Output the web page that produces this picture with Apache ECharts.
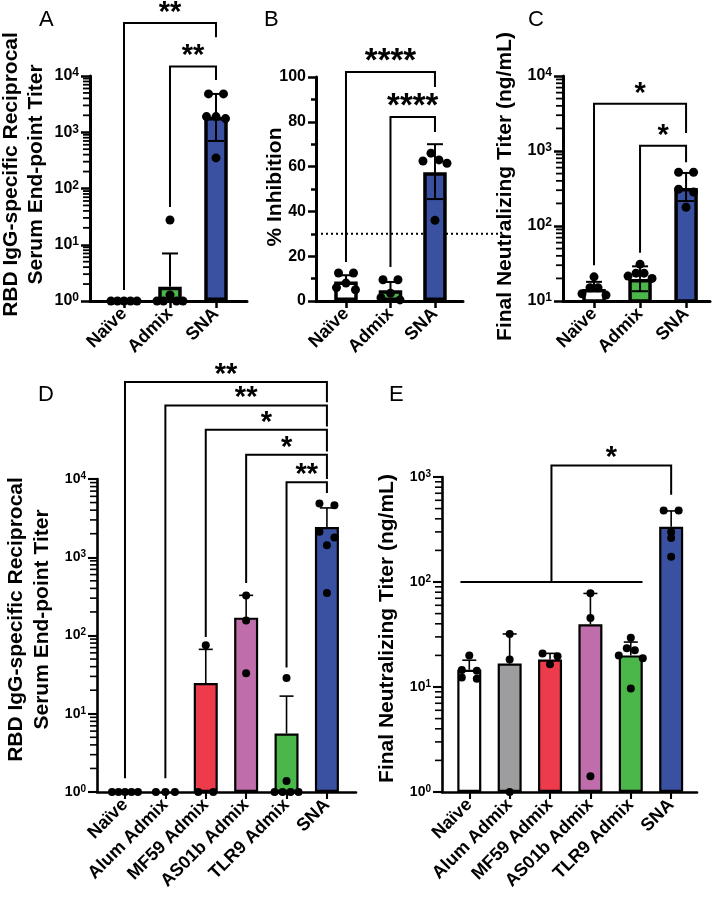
<!DOCTYPE html>
<html><head><meta charset="utf-8">
<script src="https://cdn.jsdelivr.net/npm/echarts@6/dist/echarts.min.js"></script>
<style>html,body{margin:0;padding:0;background:#fff}#c{width:719px;height:903px}</style>
</head><body><div id="c"></div>
<script>
const FONT = '"Liberation Sans", Arial, Helvetica, sans-serif';

// ---------------- DATA ----------------
const topCategories = ['Naïve', 'Admix', 'SNA'];
const bottomCategories = ['Naïve', 'Alum Admix', 'MF59 Admix', 'AS01b Admix', 'TLR9 Admix', 'SNA'];

// Panel A: RBD IgG titer (log)
const aMeans   = [1, 1.8, 1860];
const aErrHigh = [null, 7, 4800];
const aErrLow  = [null, null, 700];
const aDots    = [[1,1,1,1,1],[27.5,1.28,1,1,1,1],[4800,4800,1900,1900,1750,350]];
const aBrackets = [[0,2,87100,1.57,49000],[1,2,14800,47,8500]];
const aBracketLabels = ['**','**'];

// Panel B: % inhibition
const bMeans   = [8.7, 4.8, 57.5];
const bErrHigh = [11.5, 8.5, 70];
const bErrLow  = [null, null, 45.5];
const bDots    = [[12.5,12.5,8,6,5],[9.5,9.5,3.5,1.5,0.5],[66,63,62.5,61.5,36]];
const bThreshold = 30;
const bBrackets = [[0,2,102.2,17.4,95.5],[1,2,82.1,15.2,75.4]];
const bBracketLabels = ['****','****'];
const bTicks = [0,20,40,60,80,100];

// Panel C: final neutralizing titer (log)
const cMeans   = [14.5, 19.7, 320];
const cErrHigh = [18, 29, 510];
const cErrLow  = [null, 13.5, 215];
const cDots    = [[21,15,15,12.5,12],[31,23.5,23.5,21.5,20],[520,520,310,283,178]];
const cBrackets = [[0,2,4270,30,1740],[1,2,1175,44,710]];
const cBracketLabels = ['*','*'];

// Panel D: RBD IgG titer, adjuvants (log)
const dMeans   = [null, null, 24.7, 169, 5.6, 2440];
const dErrHigh = [null, null, 66.5, 326, 16.8, 4270];
const dErrLow  = [null, null, null, null, null, null];
const dDots    = [[1,1,1,1,1],[1,1,1],[75,1,1],[325,156,33],[28.6,1.38,1,1,1,1],[4620,4860,1790,2110,1420,350]];
const dBrackets = [[0,5,174000,1.5,95500],[1,5,87000,1.5,46800],[2,5,42700,96,22400],[3,5,20400,470,10000],[4,5,9120,39,6600]];
const dBracketLabels = ['**','**','*','*','**'];

// Panel E: final neutralizing titer, adjuvants (log)
const eMeans   = [14.6, 16.7, 18.3, 39.6, 20, 335];
const eErrHigh = [18, 32, 20.9, 77.8, 26.8, 475];
const eErrLow  = [null, null, null, null, null, null];
const eDots    = [[20,14.3,14.5,12.3,12],[32,18.3,1],[20.9,19.6,16.5],[78,45.5,1.41],[29.5,23.4,22.4,20,18.8,9.7],[480,480,300,262,174]];
const eGroupBrackets = [[0,4,100,5,1290,676]];
const eBracketLabels = ['*'];

// ---------------- STYLE ----------------
const WHITE='#ffffff', GREEN='#4bb649', BLUE='#3a51a2', GRAY='#9d9d9f', RED='#ee3b4b', PINK='#bf6dab';
const topColors = [WHITE, GREEN, BLUE];
const bottomColors = [WHITE, GRAY, RED, PINK, GREEN, BLUE];
const SPREAD = [0, 0, 15, 9.5, 8, 6.5, 5.5];

function dotOffsets(ys, gap) {
  const order = ys.map((y,i)=>i).sort((a,b)=>ys[a]-ys[b]);
  const res = new Array(ys.length).fill(0);
  let cluster = [order[0]];
  const flush = () => {
    const n = cluster.length, sp = SPREAD[Math.min(n, 6)];
    const slots = [];
    if (n % 2) { slots.push(0); for (let k=1; slots.length<n; k++) slots.push(-k, k); }
    else { for (let k=0; slots.length<n; k++) slots.push(-(k+0.5), k+0.5); }
    cluster.forEach((idx, j) => { res[idx] = slots[j]*sp; });
  };
  for (let q=1; q<order.length; q++) {
    const cur = order[q], prev = order[q-1];
    if (ys[cur]-ys[prev] < gap) cluster.push(cur); else { flush(); cluster = [cur]; }
  }
  flush();
  return res;
}
function minorValues(min, max) {
  const out = [];
  for (let d = min; d < max; d *= 10) for (let m = 2; m <= 9; m++) out.push(m*d);
  return out;
}
function powLabel(v) { return '{b|10}{s|' + Math.round(Math.log10(v)) + '}'; }

const option = {animation:false, backgroundColor:'#fff', title:[], grid:[], xAxis:[], yAxis:[], series:[]};

function addPanel(c) {
  const gi = option.grid.length;
  option.grid.push(Object.assign({outerBoundsMode:'none', containLabel:false}, c.box));
  const ticks = c.cats.map((_,k)=>k);
  const xi = option.xAxis.length;
  option.xAxis.push({
    gridIndex: gi, type:'value', position:'bottom', min:c.xMin, max:c.xMax,
    axisLine:{show:true, onZero:false, lineStyle:{color:'#000', width:c.axisW}},
    axisTick:{show:true, customValues:ticks, length:7, lineStyle:{color:'#000', width:c.axisW-0.5}},
    axisLabel:{show:true, customValues:ticks, formatter:v=>c.cats[Math.round(v)], rotate:45, margin:c.xMargin,
      color:'#000', fontFamily:FONT, fontWeight:'bold', fontSize:c.xFont},
    splitLine:{show:false}
  });
  const yi = option.yAxis.length;
  const nameCfg = {
    name:c.yName, nameLocation:'middle', nameRotate:90, nameGap:c.nameGap, nameMoveOverlap:false,
    nameTextStyle:{fontSize:c.nameFont, fontWeight:'bold', fontFamily:FONT, color:'#000', lineHeight:c.nameLH, padding:[0,0,0,c.nameShift*2]}
  };
  if (c.log) {
    option.yAxis.push(Object.assign({
      gridIndex:gi, type:'log', logBase:10, min:c.yMin, max:c.yMax, position:'left',
      axisLine:{show:true, onZero:false, lineStyle:{color:'#000', width:c.axisW}},
      axisTick:{show:true, length:c.majorTick, lineStyle:{color:'#000', width:c.axisW-0.5}},
      axisLabel:{formatter:powLabel, margin:c.yMargin, rich:{
        b:{fontSize:c.yFont, fontWeight:'bold', fontFamily:FONT, color:'#000', lineHeight:c.yFont+2},
        s:{fontSize:Math.round(c.yFont*0.72), fontWeight:'bold', fontFamily:FONT, color:'#000', lineHeight:Math.round(c.yFont*0.72), verticalAlign:'top'}
      }},
      splitLine:{show:false}
    }, nameCfg));
  } else {
    option.yAxis.push(Object.assign({
      gridIndex:gi, type:'value', min:c.yMin, max:c.yMax, interval:c.yInterval, position:'left',
      axisLine:{show:true, onZero:false, lineStyle:{color:'#000', width:c.axisW}},
      axisTick:{show:true, length:c.majorTick, lineStyle:{color:'#000', width:c.axisW-0.5}},
      minorTick:{show:true, splitNumber:2, length:5, lineStyle:{color:'#000', width:c.axisW-0.5}},
      axisLabel:{margin:c.yMargin, color:'#000', fontFamily:FONT, fontWeight:'bold', fontSize:c.yFont},
      splitLine:{show:false}
    }, nameCfg));
  }
  // bars
  option.series.push({
    type:'bar', xAxisIndex:xi, yAxisIndex:yi, barWidth:c.barW, clip:true, silent:true, z:2,
    itemStyle:{borderColor:'#000', borderWidth:c.barBorder},
    data: c.means.map((m,k)=> m==null ? null : {value:[k,m], itemStyle:{color:c.colors[k]}}).filter(d=>d)
  });
  // error bars
  option.series.push({
    type:'custom', xAxisIndex:xi, yAxisIndex:yi, z:3, silent:true, encode:{x:0, y:1},
    data: c.means.map((m,k)=> (m==null || c.errHigh[k]==null) ? null : [k, m, c.errHigh[k], c.errLow[k]==null?NaN:c.errLow[k]]).filter(d=>d),
    renderItem(params, api) {
      const x = api.value(0), m = api.value(1), hi = api.value(2), lo = api.value(3);
      const pm = api.coord([x,m]), ph = api.coord([x,hi]);
      const st = {stroke:'#000', lineWidth:c.errW};
      const ch = [
        {type:'line', shape:{x1:pm[0], y1:pm[1], x2:ph[0], y2:ph[1]}, style:st},
        {type:'line', shape:{x1:ph[0]-c.cap, y1:ph[1], x2:ph[0]+c.cap, y2:ph[1]}, style:st}
      ];
      if (!isNaN(lo)) {
        const pl = api.coord([x,lo]);
        ch.push({type:'line', shape:{x1:pl[0], y1:pl[1], x2:pm[0], y2:pm[1]}, style:st});
        ch.push({type:'line', shape:{x1:pl[0]-c.cap, y1:pl[1], x2:pl[0]+c.cap, y2:pl[1]}, style:st});
      }
      return {type:'group', children:ch};
    }
  });
  // dots
  const dotData = [];
  c.dots.forEach((arr,k)=>arr.forEach((v,j)=>dotData.push([k,v,j])));
  option.series.push({
    type:'custom', xAxisIndex:xi, yAxisIndex:yi, z:4, silent:true, encode:{x:0, y:1},
    data: dotData,
    renderItem(params, api) {
      const k = api.value(0), v = api.value(1), j = api.value(2);
      const ys = c.dots[k].map(d => api.coord([k,d])[1]);
      const off = dotOffsets(ys, c.dotR*1.5);
      const p = api.coord([k,v]);
      return {type:'circle', shape:{cx:p[0]+off[j], cy:p[1], r:c.dotR}, style:{fill:'#000'}};
    }
  });
  // minor log ticks (2..9 of each decade), drawn through the log axis as one group
  if (c.log) {
    option.series.push({
      type:'custom', xAxisIndex:xi, yAxisIndex:yi, z:10, silent:true, clip:false, encode:{x:0, y:1},
      data: [[0, c.yMin]],
      renderItem(params, api) {
        const x = params.coordSys.x;
        const children = minorValues(c.yMin, c.yMax).map(v => {
          const y = api.coord([0, v])[1];
          return {type:'line', shape:{x1:x - c.minorTick, y1:y, x2:x, y2:y}, style:{stroke:'#000', lineWidth:c.minorW}};
        });
        return {type:'group', children};
      }
    });
  }
  // brackets
  if (c.brackets) {
    option.series.push({
      type:'custom', xAxisIndex:xi, yAxisIndex:yi, z:5, silent:true, clip:false, encode:{x:0, y:2},
      data: c.brackets,
      renderItem(params, api) {
        const f = api.value(0), t = api.value(1), lv = api.value(2), le = api.value(3), re = api.value(4);
        const a = api.coord([f,le]), b = api.coord([f,lv]), d = api.coord([t,lv]), e = api.coord([t,re]);
        return {type:'group', children:[
          {type:'polyline', shape:{points:[a,b,d,e]}, style:{stroke:'#000', lineWidth:c.brW, fill:null}},
          {type:'text', x:(b[0]+d[0])/2, y:b[1]-c.starOff, style:{text:c.bracketLabels[params.dataIndex], font:'bold '+c.starFont+'px '+FONT, fill:'#000', align:'center', verticalAlign:'middle'}}
        ]};
      }
    });
  }
  if (c.groupBrackets) {
    option.series.push({
      type:'custom', xAxisIndex:xi, yAxisIndex:yi, z:5, silent:true, clip:false, encode:{x:0, y:2},
      data: c.groupBrackets,
      renderItem(params, api) {
        const g0 = api.value(0)-0.22, g1 = api.value(1)+0.29, gl = api.value(2), t = api.value(3), lv = api.value(4), re = api.value(5);
        const p0 = api.coord([g0,gl]), p1 = api.coord([g1,gl]);
        const midX = (p0[0]+p1[0])/2;
        const top = api.coord([t,lv]), end = api.coord([t,re]);
        const st = {stroke:'#000', lineWidth:c.brW, fill:null};
        return {type:'group', children:[
          {type:'line', shape:{x1:p0[0], y1:p0[1], x2:p1[0], y2:p1[1]}, style:st},
          {type:'polyline', shape:{points:[[midX,p0[1]],[midX,top[1]],top,end]}, style:st},
          {type:'text', x:(midX+top[0])/2, y:top[1]-c.starOff, style:{text:c.bracketLabels[params.dataIndex], font:'bold '+c.starFont+'px '+FONT, fill:'#000', align:'center', verticalAlign:'middle'}}
        ]};
      }
    });
  }
  if (c.threshold != null) {
    option.series.push({
      type:'custom', xAxisIndex:xi, yAxisIndex:yi, z:1, silent:true, clip:false, encode:{x:0, y:1},
      data: [[0, c.threshold]],
      renderItem(params, api) {
        const cs = params.coordSys; const y = api.coord([0, api.value(1)])[1];
        return {type:'line', shape:{x1:cs.x, y1:y, x2:cs.x+cs.width+35, y2:y}, style:{stroke:'#000', lineWidth:2, lineDash:[2,3]}};
      }
    });
  }
  option.title.push({text:c.letter, left:c.letterPos[0], top:c.letterPos[1], padding:0,
    textStyle:{fontSize:22, fontWeight:'normal', fontFamily:FONT, color:'#000'}});
}

const topStyle = {axisW:3, xFont:18, xMargin:10, yFont:16, yMargin:11, majorTick:9, minorTick:7, minorW:1.8, nameFont:21, barW:23.5, barBorder:3.5,
  errW:2, cap:8, dotR:4.5, brW:2, starFont:29, starOff:10};
const botStyle = {axisW:2.6, xFont:18, xMargin:10, yFont:14, yMargin:11, majorTick:9, minorTick:7, minorW:1.6, nameFont:21, barW:24, barBorder:2.2,
  errW:1.6, cap:7, dotR:4, brW:2, starFont:29, starOff:7};

addPanel(Object.assign({}, topStyle, {
  letter:'A', letterPos:[39,9], box:{left:90, top:76, width:157, height:225}, xMin:-0.739, xMax:2.674,
  cats:topCategories, colors:topColors, log:true, yMin:1, yMax:10000,
  yName:'RBD IgG-specific Reciprocal\nSerum End-point Titer', nameGap:41, nameLH:25, nameShift:14,
  means:aMeans, errHigh:aErrHigh, errLow:aErrLow, dots:aDots, brackets:aBrackets, bracketLabels:aBracketLabels
}));
addPanel(Object.assign({}, topStyle, {
  letter:'B', letterPos:[264,9], box:{left:316, top:77, width:147, height:224}, xMin:-0.674, xMax:2.63,
  cats:topCategories, colors:topColors, log:false, yMin:bTicks[0], yMax:bTicks[bTicks.length-1], yInterval:bTicks[1]-bTicks[0],
  majorTick:8, yMargin:10,
  yName:'% Inhibition', nameGap:28, nameLH:25, nameShift:2,
  means:bMeans, errHigh:bErrHigh, errLow:bErrLow, dots:bDots, brackets:bBrackets, bracketLabels:bBracketLabels,
  threshold:bThreshold, starFont:33
}));
addPanel(Object.assign({}, topStyle, {
  letter:'C', letterPos:[528,9], box:{left:563, top:76, width:147, height:225}, xMin:-0.674, xMax:2.52,
  cats:topCategories, colors:topColors, log:true, yMin:10, yMax:10000,
  yName:'Final Neutralizing Titer (ng/mL)', nameGap:45, nameLH:25, nameShift:2,
  means:cMeans, errHigh:cErrHigh, errLow:cErrLow, dots:cDots, brackets:cBrackets, bracketLabels:cBracketLabels
}));
addPanel(Object.assign({}, botStyle, {
  letter:'D', letterPos:[38,384], box:{left:97, top:479, width:259, height:313}, xMin:-0.693, xMax:5.72,
  cats:bottomCategories, colors:bottomColors, log:true, yMin:1, yMax:10000,
  yName:'RBD IgG-specific Reciprocal\nSerum End-point Titer', nameGap:42, nameLH:26, nameShift:16,
  means:dMeans, errHigh:dErrHigh, errLow:dErrLow, dots:dDots, brackets:dBrackets, bracketLabels:dBracketLabels
}));
addPanel(Object.assign({}, botStyle, {
  letter:'E', letterPos:[389,384], box:{left:442, top:477, width:255, height:315}, xMin:-0.676, xMax:5.64,
  cats:bottomCategories, colors:bottomColors, log:true, yMin:1, yMax:1000,
  yName:'Final Neutralizing Titer (ng/mL)', nameGap:42, nameLH:26, nameShift:6,
  means:eMeans, errHigh:eErrHigh, errLow:eErrLow, dots:eDots, groupBrackets:eGroupBrackets, bracketLabels:eBracketLabels
}));

const chart = echarts.init(document.getElementById('c'), null, {renderer:'canvas', width:719, height:903});
chart.setOption(option);
</script>
</body></html>
